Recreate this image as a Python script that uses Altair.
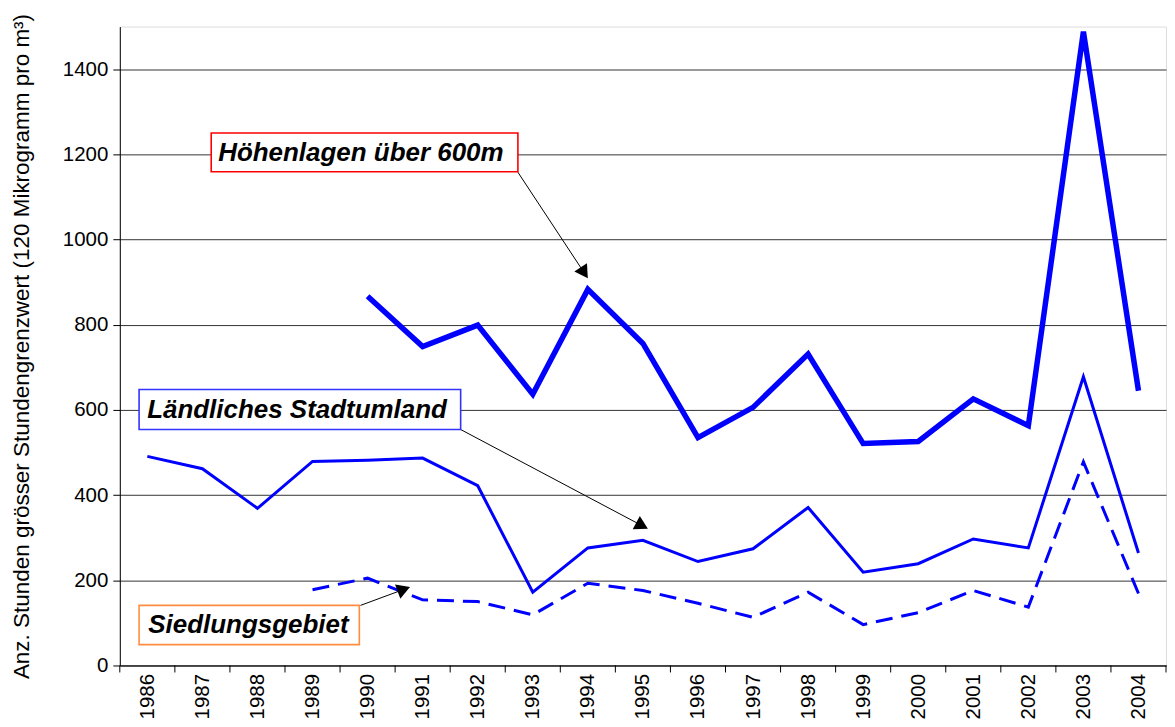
import math
import altair as alt
import pandas as pd

# ---- data ----
years = list(range(1986, 2005))
hoehenlagen = [None, None, None, None, 867, 749, 799, 637, 883, 756, 535, 606, 731, 521, 526, 626, 563, 1488, 645]
laendlich = [491, 462, 369, 479, 482, 487, 422, 172, 276, 294, 244, 274, 371, 219, 239, 297, 276, 678, 264]
siedlung = [None, None, None, 178, 205, 154, 150, 119, 193, 176, 146, 113, 172, 96, 124, 176, 137, 478, 169]

labels = ["Höhenlagen über 600m", "Ländliches Stadtumland", "Siedlungsgebiet"]
label_colors = ["#FF0000", "#3333FF", "#FF8C40"]
# box (x1, x2, y1, y2) in data units, text anchor (x, y), arrow start, arrow tip
boxes = [(1987.16, 1992.73, 1159, 1250), (1985.85, 1991.69, 554, 648), (1985.85, 1989.85, 49, 141)]
text_pos = [(1987.25, 1204), (1985.96, 600), (1985.98, 94)]
arrow_start = [(1992.73, 1158), (1991.69, 554), (1989.87, 141)]
arrow_tip = [(1994.0, 909), (1995.09, 321), (1990.77, 184)]

W, H = 1048, 640
XMIN, XMAX = 1985.5, 2004.5
YMIN, YMAX = 0, 1500
pxx = W / (XMAX - XMIN)
pxy = H / (YMAX - YMIN)

FONT = "Liberation Sans"
BLUE = "#0000FF"


def series_df(vals, name):
    return pd.DataFrame([{"year": y, "value": v, "series": name} for y, v in zip(years, vals) if v is not None])


x_enc = alt.X("year:Q", scale=alt.Scale(domain=[XMIN, XMAX], nice=False, zero=False),
              axis=alt.Axis(values=years, format="d", labelAngle=-90, ticks=False, grid=False,
                            title=None, labelPadding=8, labelFontSize=20.5, labelFont=FONT,
                            labelColor="black", domainColor="black", labelAlign="right",
                            labelBaseline="middle"))
y_enc = alt.Y("value:Q", scale=alt.Scale(domain=[YMIN, YMAX], nice=False),
              axis=alt.Axis(values=list(range(0, 1401, 200)), format="d", grid=True, gridColor="#000000",
                            gridWidth=0.8, tickSize=7, tickColor="black", domainColor="black",
                            labelFontSize=20.5, labelFont=FONT, labelColor="black", labelPadding=5,
                            title="Anz. Stunden grösser Stundengrenzwert (120 Mikrogramm pro m³)",
                            titleFont=FONT, titleFontSize=22.5, titleFontWeight="normal",
                            titleColor="black", titlePadding=29))

line_h = alt.Chart(series_df(hoehenlagen, labels[0])).mark_line(color=BLUE, strokeWidth=5.5).encode(x=x_enc, y=y_enc)
line_l = alt.Chart(series_df(laendlich, labels[1])).mark_line(color=BLUE, strokeWidth=3).encode(x="year:Q", y="value:Q")
line_s = alt.Chart(series_df(siedlung, labels[2])).mark_line(color=BLUE, strokeWidth=3, strokeDash=[17, 9]).encode(x="year:Q", y="value:Q")

# x tick marks between categories
ticks_df = pd.DataFrame({"t": [XMIN + i for i in range(len(years) + 1)]})
xticks = alt.Chart(ticks_df).mark_rule(color="black", strokeWidth=1).encode(
    x="t:Q", y=alt.value(H), y2=alt.value(H + 7))

# annotation boxes & text
box_df = pd.DataFrame({"x1": [b[0] for b in boxes], "x2": [b[1] for b in boxes],
                       "y1": [b[2] for b in boxes], "y2": [b[3] for b in boxes],
                       "label": labels, "col": label_colors})
rects = alt.Chart(box_df).mark_rect(fill="white", strokeWidth=1.6).encode(
    x="x1:Q", x2="x2:Q", y="y1:Q", y2="y2:Q",
    stroke=alt.Stroke("col:N", scale=None))

text_df = pd.DataFrame({"x": [p[0] for p in text_pos], "y": [p[1] for p in text_pos], "label": labels})
texts = alt.Chart(text_df).mark_text(align="left", baseline="middle", font=FONT, fontSize=26,
                                     fontStyle="italic", fontWeight="bold", color="black", dx=2).encode(
    x="x:Q", y="y:Q", text="label:N")

# arrows
size = 230
r = math.sqrt(size) / 2
h = math.sqrt(3) * r / 2
rows = []
for (sx, sy), (tx, ty) in zip(arrow_start, arrow_tip):
    dxp = (tx - sx) * pxx
    dyp = -(ty - sy) * pxy
    L = math.hypot(dxp, dyp)
    ux, uy = dxp / L, dyp / L
    cxp = -ux * h
    cyp = -uy * h
    cx = tx + cxp / pxx
    cy = ty - cyp / pxy
    ang = (math.degrees(math.atan2(ux, -uy)) + 360) % 360
    rows.append({"sx": sx, "sy": sy, "cx": cx, "cy": cy, "ang": ang})
arr_df = pd.DataFrame(rows)
arrow_lines = alt.Chart(arr_df).mark_rule(color="black", strokeWidth=1).encode(
    x="sx:Q", y="sy:Q", x2="cx:Q", y2="cy:Q")
arrow_heads = alt.Chart(arr_df).mark_point(shape="triangle-up", filled=True, color="black",
                                           opacity=1, size=size).encode(
    x="cx:Q", y="cy:Q", angle=alt.Angle("ang:Q", scale=None))

chart = alt.layer(line_h, line_l, line_s, xticks, arrow_lines, arrow_heads, rects, texts).properties(
    width=W, height=H, padding={"left": 2, "top": 4, "right": 0, "bottom": 0}
).configure_view(fill="#FFFFCC", stroke="#808080", strokeWidth=1.5).configure(background="white")

chart.save("out.html", embed_options={"renderer": "svg", "actions": False})
